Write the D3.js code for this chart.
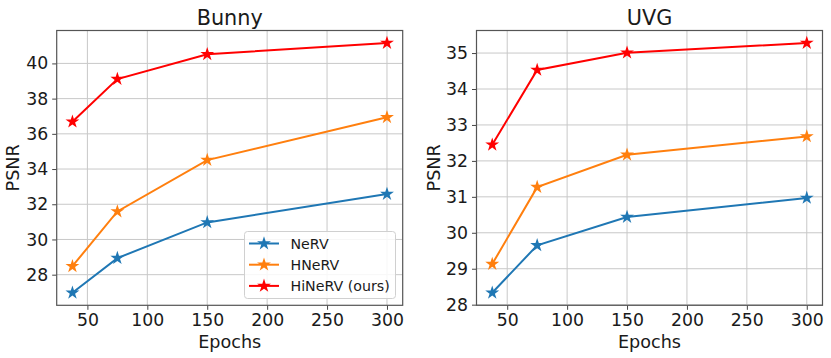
<!DOCTYPE html>
<html><head><meta charset="utf-8">
<script src="https://cdn.jsdelivr.net/npm/d3@7"></script>
<style>body{margin:0;background:#fff}svg{display:block}text{font-family:"DejaVu Sans",sans-serif;fill:#1a1a1a}</style>
</head><body>
<svg id="c" width="831" height="358"></svg>
<script>
const epochs = [37.5, 75, 150, 300];
const xTicks = [50, 100, 150, 200, 250, 300];
const seriesNames = ["NeRV", "HNeRV", "HiNeRV (ours)"];
const seriesColors = ["#1f77b4", "#ff7f0e", "#ff0000"];
const bunnyNeRV = [26.97, 28.94, 30.97, 32.58];
const bunnyHNeRV = [28.48, 31.59, 34.51, 36.94];
const bunnyHiNeRV = [36.69, 39.11, 40.52, 41.16];
const bunnyYTicks = [28, 30, 32, 34, 36, 38, 40];
const uvgNeRV = [28.33, 29.65, 30.44, 30.97];
const uvgHNeRV = [29.13, 31.27, 32.17, 32.68];
const uvgHiNeRV = [32.45, 34.53, 35.01, 35.28];
const uvgYTicks = [28, 29, 30, 31, 32, 33, 34, 35];

const svg = d3.select("#c");
const star = d3.symbol().type(d3.symbolStar).size(60);

function panel(opt) {
  const {left, right, top, bottom, title, series, yTicks, showLegend, labelX} = opt;
  const all = series.flat();
  const xr = d3.extent(epochs), yr = d3.extent(all);
  const xm = (xr[1]-xr[0])*0.05, ym = (yr[1]-yr[0])*0.05;
  const x = d3.scaleLinear().domain([xr[0]-xm, xr[1]+xm]).range([left, right]);
  const y = d3.scaleLinear().domain([yr[0]-ym, yr[1]+ym]).range([bottom, top]);
  const g = svg.append("g");
  // grid
  g.append("g").selectAll("line").data(xTicks).join("line")
    .attr("x1", d=>x(d)).attr("x2", d=>x(d)).attr("y1", top).attr("y2", bottom)
    .attr("stroke", "#c8c8c8").attr("stroke-width", 1);
  g.append("g").selectAll("line").data(yTicks).join("line")
    .attr("y1", d=>y(d)).attr("y2", d=>y(d)).attr("x1", left).attr("x2", right)
    .attr("stroke", "#c8c8c8").attr("stroke-width", 1);
  // axes
  const xa = g.append("g").attr("transform", `translate(0,${bottom})`)
    .call(d3.axisBottom(x).tickValues(xTicks).tickSize(4.5).tickPadding(4).tickFormat(d3.format("d")));
  const ya = g.append("g").attr("transform", `translate(${left},0)`)
    .call(d3.axisLeft(y).tickValues(yTicks).tickSize(4.5).tickPadding(4).tickFormat(d3.format("d")));
  [xa, ya].forEach(a => {
    a.select(".domain").remove();
    a.selectAll(".tick line").attr("stroke", "#444").attr("stroke-width", 1);
    a.selectAll(".tick text").attr("font-size", "17.3px").attr("font-family", "DejaVu Sans").attr("fill", "#1a1a1a");
  });
  // lines
  const line = d3.line().x((d,i)=>x(epochs[i])).y(d=>y(d));
  series.forEach((s, k) => {
    g.append("path").attr("d", line(s)).attr("fill", "none")
      .attr("stroke", seriesColors[k]).attr("stroke-width", 2);
    g.append("g").selectAll("path").data(s).join("path")
      .attr("d", star).attr("transform", (d,i)=>`translate(${x(epochs[i])},${y(d)})`)
      .attr("fill", seriesColors[k]);
  });
  // frame
  g.append("rect").attr("x", left).attr("y", top).attr("width", right-left).attr("height", bottom-top)
    .attr("fill", "none").attr("stroke", "#555").attr("stroke-width", 1.2);
  // titles
  g.append("text").attr("x", (left+right)/2).attr("y", 24.5).attr("text-anchor", "middle")
    .attr("font-size", "20.8px").text(title);
  g.append("text").attr("x", (left+right)/2).attr("y", 347.5).attr("text-anchor", "middle")
    .attr("font-size", "17.6px").text("Epochs");
  g.append("text").attr("transform", `translate(${labelX},${(top+bottom)/2}) rotate(-90)`)
    .attr("text-anchor", "middle").attr("font-size", "17.6px").text("PSNR");
  if (showLegend) {
    const lg = g.append("g");
    lg.append("rect").attr("x", 244.5).attr("y", 231.5).attr("width", 151).attr("height", 67)
      .attr("rx", 3).attr("fill", "#fff").attr("fill-opacity", 0.85).attr("stroke", "#d0d0d0");
    seriesNames.forEach((n, k) => {
      const yy = 243.5 + k*21.2;
      lg.append("line").attr("x1", 249).attr("x2", 279).attr("y1", yy).attr("y2", yy)
        .attr("stroke", seriesColors[k]).attr("stroke-width", 2);
      lg.append("path").attr("d", star).attr("transform", `translate(264,${yy})`).attr("fill", seriesColors[k]);
      lg.append("text").attr("x", 290.5).attr("y", yy+5).attr("font-size", "14.2px").text(n);
    });
  }
}

panel({left: 56.7, right: 402.7, top: 30.5, bottom: 305.3, title: "Bunny",
  series: [bunnyNeRV, bunnyHNeRV, bunnyHiNeRV], yTicks: bunnyYTicks, showLegend: true, labelX: 19});
panel({left: 476.5, right: 822.5, top: 30.5, bottom: 305.3, title: "UVG",
  series: [uvgNeRV, uvgHNeRV, uvgHiNeRV], yTicks: uvgYTicks, showLegend: false, labelX: 439.5});
</script>
</body></html>
